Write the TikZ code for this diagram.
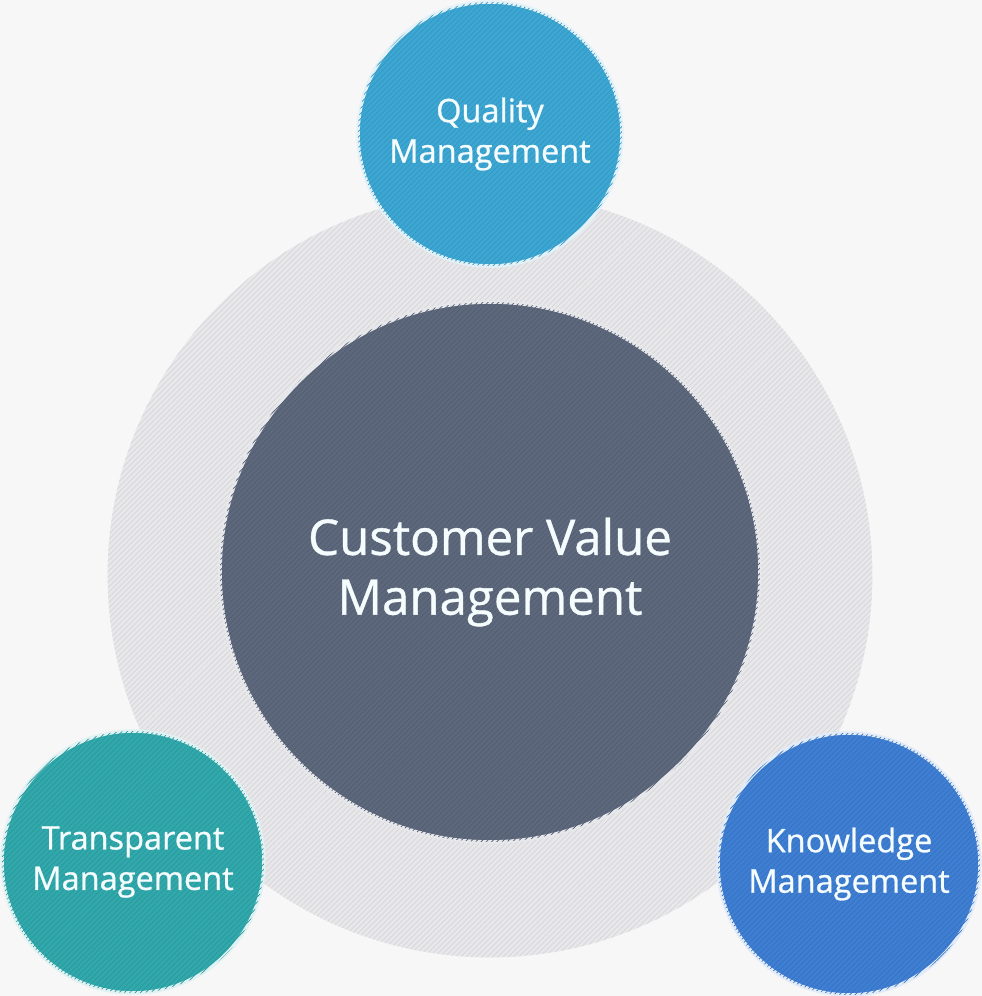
\documentclass[tikz,border=0pt]{standalone}
\usepackage{fontspec}
\setmainfont{Open Sans}[FakeBold=0.8]
\usetikzlibrary{patterns}

\definecolor{paper}{HTML}{F7F7F7}
\definecolor{ringfill}{HTML}{E8E8EA}
\definecolor{ringline}{HTML}{D6D6DA}
\definecolor{corefill}{HTML}{5E687C}
\definecolor{coreline}{HTML}{545E71}
\definecolor{qualfill}{HTML}{3DA7D3}
\definecolor{qualline}{HTML}{3597C1}
\definecolor{tranfill}{HTML}{31A9AC}
\definecolor{tranline}{HTML}{2B989B}
\definecolor{knowfill}{HTML}{3F7FD3}
\definecolor{knowline}{HTML}{3872C0}

\tikzset{
	disc/.style={circle, inner sep=0pt, draw=white!85!#1fill, line width=2pt, fill=#1fill,
		text=white!96!cyan, align=center},
	striped/.style={postaction={pattern=north east lines, pattern color=#1line}},
	smalltext/.style={font=\fontsize{18.5}{23}\selectfont},
	bigtext/.style={font=\fontsize{28}{34}\selectfont}
}

\begin{document}
\begin{tikzpicture}[x=0.02cm, y=0.02cm]
	\fill[paper] (0, 0) rectangle (982, 996);
	\useasboundingbox (0, 0) rectangle (982, 996);

	\node[circle, minimum size=15.3cm, fill=ringfill, striped=ring](ring) at (490, 421){};
	\node[disc=core, striped=core, minimum size=10.8cm, bigtext](core) at (490, 424){Customer Value\\Management};

	\node[disc=qual, striped=qual, minimum size=5.28cm, smalltext](quality) at (490, 862){Quality\\Management};
	\node[disc=tran, striped=tran, minimum size=5.24cm, smalltext](transparent) at (133, 134){Transparent\\Management};
	\node[disc=know, striped=know, minimum size=5.24cm, smalltext](knowledge) at (849, 132){Knowledge\\Management};
\end{tikzpicture}
\end{document}
